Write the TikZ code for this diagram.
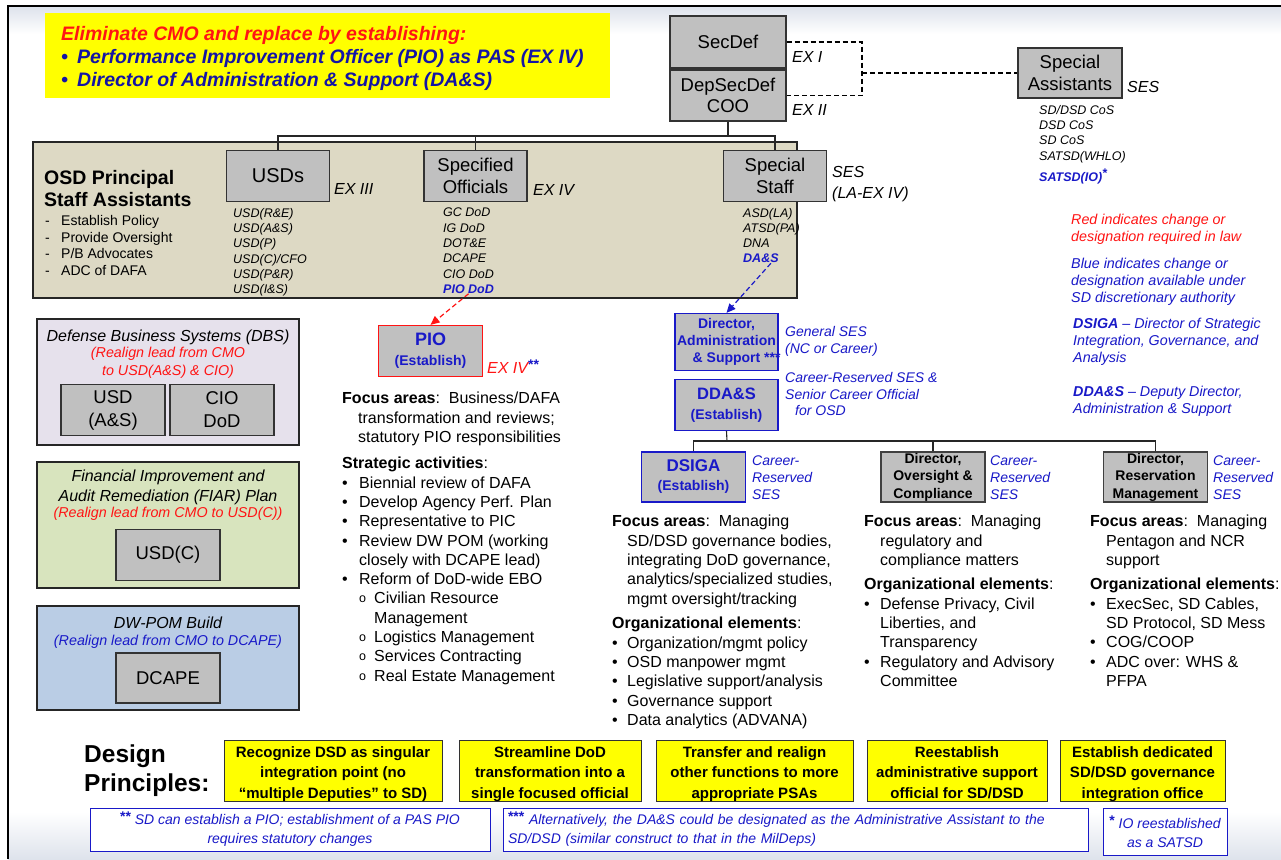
\documentclass[tikz,border=0pt]{standalone}
\usepackage{fontspec}
\setmainfont{Liberation Sans}
\usetikzlibrary{arrows.meta}
\definecolor{myblue}{RGB}{25,25,200}
\definecolor{navy}{RGB}{20,20,165}
\definecolor{myred}{RGB}{255,20,20}
\definecolor{boxgray}{RGB}{192,192,192}
\definecolor{beige}{RGB}{221,217,196}
\definecolor{lav}{RGB}{230,225,236}
\definecolor{lgreen}{RGB}{216,228,190}
\definecolor{lblue}{RGB}{186,205,229}
\definecolor{ylw}{RGB}{255,255,0}
\definecolor{bgtint}{RGB}{222,227,236}
\newcommand\fsz[2]{\fontsize{#1}{#2}\selectfont}
\newcommand\blt[1][16pt]{\makebox[#1][l]{•}}
\newcommand\sbl{\makebox[15pt][l]{\raisebox{1pt}{\fsz{12.5}{12}o}}}
\tikzset{
  gbx/.style={draw=black!80, fill=boxgray, line width=1.1pt, inner sep=0pt, align=center},
  bbx/.style={gbx, draw=myblue, line width=1.3pt, text=myblue},
  lbl/.style={inner sep=0pt, anchor=west, font=\itshape\fsz{16}{19}},
  txt/.style={inner sep=0pt, anchor=north west, align=left},
  conn/.style={line width=1.1pt, draw=black!85},
  dsh/.style={line width=1.2pt, dash pattern=on 5pt off 3pt},
  ybx/.style={draw=black!80, fill=ylw, line width=1pt, inner sep=0pt, align=center, font=\bfseries\fsz{15}{20.5}, minimum height=61pt},
  ytx/.style={inner sep=0pt, align=center, font=\bfseries\fsz{15}{20.5}},
  fnb/.style={draw=myblue, fill=white, line width=1pt, inner sep=0pt, text=myblue, font=\itshape\fsz{14}{19}},
  panel/.style={draw=black!85, line width=1.1pt, inner sep=0pt, minimum width=262pt},
  small/.style={txt, font=\itshape\fsz{12.5}{15.3}},
  body/.style={txt, font=\fsz{16}{19.3}},
  leg/.style={txt, font=\itshape\fsz{14.3}{16.8}},
  blab/.style={txt, text=myblue, font=\itshape\fsz{14}{16.7}},
}
\begin{document}
\begin{tikzpicture}[x=1pt,y=-1pt]
\useasboundingbox (0,0) rectangle (1281,859);
\fill[white] (0,0) rectangle (1281,859);
\shade[top color=bgtint, bottom color=white] (8,7) rectangle (1281,34);
\shade[top color=white, bottom color=bgtint] (8,812) rectangle (1281,859);
\draw[line width=2pt] (8,859) -- (8,6) -- (1281,6);

% banner
\node[fill=ylw, minimum width=565pt, minimum height=85pt, inner sep=0pt] (banner) at (327.5,55.5) {};
\node[txt, font=\bfseries\itshape\fsz{19.5}{23.3}] (bantxt) at (61,26)
  {\textcolor{myred}{Eliminate CMO and replace by establishing:}\\
   \textcolor{navy}{\blt[16pt]Performance Improvement Officer (PIO) as PAS (EX IV)}\\
   \textcolor{navy}{\blt[16pt]Director of Administration \& Support (DA\&S)}};

% top boxes
\node[gbx, minimum width=116pt, minimum height=52pt, font=\fsz{18.5}{21}] (secdef) at (728,42) {SecDef};
\node[gbx, minimum width=116pt, minimum height=51pt, font=\fsz{18.5}{21}] (depsec) at (728,95.5) {DepSecDef\\COO};
\node[lbl] (ex1) at (792,57) {EX I};
\node[lbl] (ex2) at (792,110) {EX II};
\node[gbx, minimum width=104pt, minimum height=50pt, font=\fsz{18.5}{22}] (spa) at (1070,73) {Special\\Assistants};
\node[lbl] (sesA) at (1127,87) {SES};
\coordinate (dj) at (862,73);
\draw[dsh] (secdef.east) -| (dj) |- (depsec.east);
\draw[dsh] (dj) -- (spa.west);
\node[small] (spal) at (1039,105) {SD/DSD CoS\\DSD CoS\\SD CoS\\SATSD(WHLO)};
\node[small, font=\bfseries\itshape\fsz{12.5}{15.3}, text=myblue] (satio) at (1039,169) {SATSD(IO)\raisebox{4pt}{*}};

% OSD panel
\node[draw=black!85, fill=beige, line width=1.1pt, minimum width=764pt, minimum height=156pt, inner sep=0pt] (osd) at (415,220) {};
\node[txt, font=\bfseries\fsz{19.5}{22.5}] (osdt) at (44,170) {OSD Principal\\Staff Assistants};
\node[txt, font=\fsz{14}{16.7}] (osdb) at (45,215)
  {\makebox[16pt][l]{-}Establish Policy\\\makebox[16pt][l]{-}Provide Oversight\\\makebox[16pt][l]{-}P/B Advocates\\\makebox[16pt][l]{-}ADC of DAFA};

\node[gbx, minimum width=103pt, minimum height=51pt, font=\fsz{20}{22}] (usds) at (278,176) {USDs};
\node[lbl] (ex3) at (334,189) {EX III};
\node[small] (usdl) at (233,208) {USD(R\&E)\\USD(A\&S)\\USD(P)\\USD(C)/CFO\\USD(P\&R)\\USD(I\&S)};

\node[gbx, minimum width=103pt, minimum height=51pt, font=\fsz{18.5}{22}] (specof) at (475.5,176) {Specified\\Officials};
\node[lbl] (ex4) at (533,190) {EX IV};
\node[small] (sofl) at (443,208) {GC DoD\\IG DoD\\DOT\&E\\DCAPE\\CIO DoD};
\node[small, font=\bfseries\itshape\fsz{12.5}{15.3}, text=myblue] (piodod) at (443,284.5) {PIO DoD};

\node[gbx, minimum width=103pt, minimum height=51pt, font=\fsz{18.5}{22}] (spstaff) at (775,176) {Special\\Staff};
\node[txt, font=\itshape\fsz{16}{21}] (sesll) at (832,166) {SES\\(LA-EX IV)};
\node[small] (ssl) at (743,208) {ASD(LA)\\ATSD(PA)\\DNA};
\node[small, font=\bfseries\itshape\fsz{12.5}{15.3}, text=myblue] (das) at (743,254) {DA\&S};

\coordinate (t1) at (728,136);
\draw[conn] (depsec.south) -- (t1);
\draw[conn] (usds.north) |- (t1) -| (spstaff.north);
\draw[conn] (specof.north) -- (specof.north |- t1);

% legend
\node[leg, text=myred] (legr) at (1071,214) {Red indicates change or\\designation required in law};
\node[leg, text=myblue] (legb) at (1071,258) {Blue indicates change or\\designation available under\\SD discretionary authority};
\node[leg, text=myblue] (legd) at (1073,318) {\textbf{DSIGA} – Director of Strategic\\Integration, Governance, and\\Analysis};
\node[leg, text=myblue] (legdd) at (1073,386) {\textbf{DDA\&S} – Deputy Director,\\Administration \& Support};

% left panels
\node[panel, fill=lav, minimum height=126pt] (dbs) at (168,382) {};
\node[inner sep=0pt, font=\itshape\fsz{16}{19}] (dbst) at (168,337) {Defense Business Systems (DBS)};
\node[inner sep=0pt, align=center, text=myred, font=\itshape\fsz{14.3}{17.5}] (dbsr) at (168,363) {(Realign lead from CMO\\to USD(A\&S) \& CIO)};
\node[gbx, minimum width=104pt, minimum height=51pt, font=\fsz{18.5}{23}] (usdas) at (113,410) {USD\\(A\&S)};
\node[gbx, minimum width=104pt, minimum height=51pt, font=\fsz{18.5}{23}] (ciod) at (222,410) {CIO\\DoD};

\node[panel, fill=lgreen, minimum height=126pt] (fiar) at (168,525) {};
\node[inner sep=0pt, align=center, font=\itshape\fsz{16}{20}] (fiart) at (168,487) {Financial Improvement and\\Audit Remediation (FIAR) Plan};
\node[inner sep=0pt, text=myred, font=\itshape\fsz{14.3}{17}] (fiarr) at (168,514) {(Realign lead from CMO to USD(C))};
\node[gbx, minimum width=104pt, minimum height=51pt, font=\fsz{18.5}{22}] (usdc) at (168,555) {USD(C)};

\node[panel, fill=lblue, minimum height=104pt] (dwpom) at (168,658) {};
\node[inner sep=0pt, font=\itshape\fsz{16}{19}] (dwt) at (168,623) {DW-POM Build};
\node[inner sep=0pt, text=myblue, font=\itshape\fsz{14.3}{17}] (dwr) at (168,642) {(Realign lead from CMO to DCAPE)};
\node[gbx, minimum width=104pt, minimum height=50pt, font=\fsz{18.5}{22}] (dcape) at (168,678) {DCAPE};

% PIO
\node[gbx, draw=myred, line width=1.3pt, minimum width=104pt, minimum height=51pt, text=myblue, font=\bfseries\fsz{14}{20}] (pio) at (430.5,351) {{\fsz{18}{20}PIO}\\(Establish)};
\node[lbl, text=myred] (ex4b) at (487,367) {EX IV\textcolor{myblue}{\raisebox{4pt}{\upshape\bfseries\fsz{14}{14}**}}};
\draw[myred, dsh, -{Triangle[length=9pt,width=8pt]}] (piodod.south) -- (pio.north);

\node[body] (pfa) at (342,392)
  {\textbf{Focus areas}:\ \ Business/DAFA\\\hspace*{16pt}transformation and reviews;\\\hspace*{16pt}statutory PIO responsibilities};
\node[body] (psa) at (342,457)
  {\textbf{Strategic activities}:\\
   \blt[17pt]Biennial review of DAFA\\
   \blt[17pt]Develop Agency Perf. Plan\\
   \blt[17pt]Representative to PIC\\
   \blt[17pt]Review DW POM (working\\
   \hspace*{17pt}closely with DCAPE lead)\\
   \blt[17pt]Reform of DoD-wide EBO\\
   \hspace*{17pt}\sbl Civilian Resource\\
   \hspace*{32pt}Management\\
   \hspace*{17pt}\sbl Logistics Management\\
   \hspace*{17pt}\sbl Services Contracting\\
   \hspace*{17pt}\sbl Real Estate Management};

% Director A&S
\node[bbx, minimum width=103pt, minimum height=57pt, font=\bfseries\fsz{14}{17}] (dir) at (726.5,342) {Director,\\Administration\\\& Support\rlap{ ***}};
\draw[myblue, dsh, -{Triangle[length=9pt,width=8pt]}] ([xshift=10pt]das.south) -- (dir.north);
\node[blab] (dirl) at (785,326) {General SES\\(NC or Career)};
\node[bbx, minimum width=103pt, minimum height=51pt, font=\bfseries\fsz{14}{20}] (dda) at (726.5,405) {{\fsz{16.5}{20}DDA\&S}\\(Establish)};
\node[blab] (ddal) at (785,372) {Career-Reserved SES \&\\Senior Career Official\\\hspace*{10pt}for OSD};

\node[bbx, minimum width=104pt, minimum height=50pt, font=\bfseries\fsz{14}{19}] (dsiga) at (693.5,477) {{\fsz{17}{19}DSIGA}\\(Establish)};
\node[gbx, draw=black!75, line width=1.6pt, minimum width=104pt, minimum height=50pt, font=\bfseries\fsz{14}{17.5}] (doc) at (933,477) {Director,\\Oversight \&\\Compliance};
\node[gbx, draw=black!75, line width=1.6pt, minimum width=104pt, minimum height=50pt, font=\bfseries\fsz{14}{17.5}] (drm) at (1155.5,477) {Director,\\Reservation\\Management};
\node[blab] (dsigal) at (752,456) {Career-\\Reserved\\SES};
\node[blab] (docl) at (990,456) {Career-\\Reserved\\SES};
\node[blab] (drml) at (1213,456) {Career-\\Reserved\\SES};

\coordinate (t2) at (727,441);
\draw[conn] (dda.south) -- (t2);
\draw[conn] (dsiga.north) |- (t2) -| (drm.north);
\draw[conn] (doc.north) -- (doc.north |- t2);

% columns
\node[body] (dfa) at (612,515)
  {\textbf{Focus areas}:\ \ Managing\\\hspace*{15pt}SD/DSD governance bodies,\\\hspace*{15pt}integrating DoD governance,\\\hspace*{15pt}analytics/specialized studies,\\\hspace*{15pt}mgmt oversight/tracking};
\node[body] (dor) at (612,617)
  {\textbf{Organizational elements}:\\
   \blt[15pt]Organization/mgmt policy\\
   \blt[15pt]OSD manpower mgmt\\
   \blt[15pt]Legislative support/analysis\\
   \blt[15pt]Governance support\\
   \blt[15pt]Data analytics (ADVANA)};

\node[body] (ofa) at (864,515)
  {\textbf{Focus areas}:\ \ Managing\\\hspace*{16pt}regulatory and\\\hspace*{16pt}compliance matters};
\node[body] (oor) at (864,578)
  {\textbf{Organizational elements}:\\
   \blt Defense Privacy, Civil\\
   \hspace*{16pt}Liberties, and\\
   \hspace*{16pt}Transparency\\
   \blt Regulatory and Advisory\\
   \hspace*{16pt}Committee};

\node[body] (rfa) at (1090,515)
  {\textbf{Focus areas}:\ \ Managing\\\hspace*{16pt}Pentagon and NCR\\\hspace*{16pt}support};
\node[body] (ror) at (1090,578)
  {\textbf{Organizational elements}:\\
   \blt ExecSec, SD Cables,\\
   \hspace*{16pt}SD Protocol, SD Mess\\
   \blt COG/COOP\\
   \blt ADC over: WHS \&\\
   \hspace*{16pt}PFPA};

% design principles
\node[txt, font=\bfseries\fsz{24.5}{29}] (dp) at (84,745) {Design\\Principles:};
\node[ybx, minimum width=218pt] (y1) at (333,770.5) {};
\node[ybx, minimum width=182pt] (y2) at (550,770.5) {};
\node[ybx, minimum width=197pt] (y3) at (754.5,770.5) {};
\node[ybx, minimum width=180pt] (y4) at (957,770.5) {};
\node[ybx, minimum width=165pt] (y5) at (1142.5,770.5) {};
\node[ytx, anchor=north] (y1t) at (333,746) {Recognize DSD as singular\\integration point (no\\“multiple Deputies” to SD)};
\node[ytx, anchor=north] (y2t) at (550,746) {Streamline DoD\\transformation into a\\single focused official};
\node[ytx, anchor=north] (y3t) at (754.5,746) {Transfer and realign\\other functions to more\\appropriate PSAs};
\node[ytx, anchor=north] (y4t) at (957,746) {Reestablish\\administrative support\\official for SD/DSD};
\node[ytx, anchor=north] (y5t) at (1142.5,746) {Establish dedicated\\SD/DSD governance\\integration office};

\node[fnb, minimum width=400pt, minimum height=43pt, align=center] (fn1) at (290,829.5)
  {\raisebox{3pt}{\upshape\bfseries **} SD can establish a PIO; establishment of a PAS PIO\\requires statutory changes};
\node[fnb, text width=575pt, inner xsep=5pt, minimum height=43pt, align=left] (fn2) at (795.5,829.5)
  {\raisebox{3pt}{\upshape\bfseries ***} Alternatively, the DA\&S could be designated as the Administrative Assistant to the\\SD/DSD (similar construct to that in the MilDeps)};
\node[fnb, minimum width=124pt, minimum height=47pt, align=center] (fn3) at (1165,831.5)
  {\raisebox{3pt}{\upshape\bfseries *} IO reestablished\\as a SATSD};
\end{tikzpicture}
\end{document}
